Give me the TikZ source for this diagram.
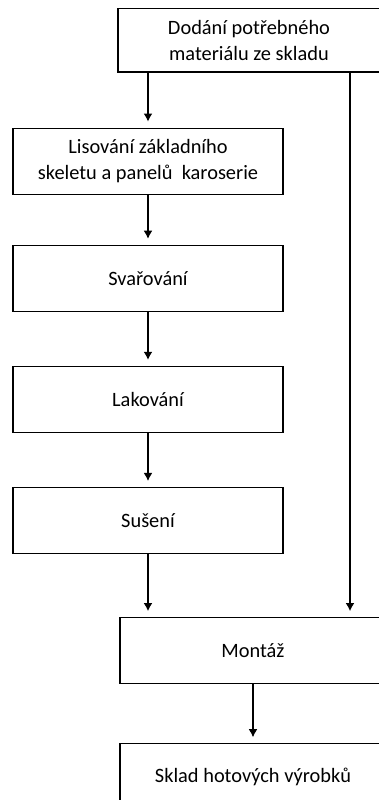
\documentclass[tikz,border=0pt]{standalone}
\usepackage{fontspec}
\setmainfont{Carlito}
\usetikzlibrary{arrows.meta, positioning}

\begin{document}
\begin{tikzpicture}[font=\fontsize{14.5}{18.5}\selectfont,->,>={Latex[length=2mm,width=2.2mm]},line width=0.8pt]

	\tikzset{stepbox/.style={draw, rectangle, align=center,
			minimum width=6.75cm, minimum height=1.65cm}}
	\tikzset{flow/.style={shorten >=0.15cm}}

	\useasboundingbox (0,0) rectangle (9.475,-20);

	\node[stepbox, minimum width=6.55cm, minimum height=1.58cm] (dod) at (6.225,-1.01) {Dodání potřebného\\materiálu ze skladu};
	\node[stepbox, below=1.375cm of dod, xshift=-2.525cm] (lis) {Lisování základního\\skeletu a panelů\ \ karoserie};
	\node[stepbox, below=1.25cm of lis] (svar) {Svařování};
	\node[stepbox, below=1.35cm of svar] (lak) {Lakování};
	\node[stepbox, below=1.35cm of lak] (sus) {Sušení};
	\node[stepbox, minimum width=6.65cm, below=1.575cm of sus, xshift=2.625cm] (mont) {Montáž};
	\node[stepbox, minimum width=6.65cm, below=1.475cm of mont] (skl) {Sklad hotových výrobků};
	\coordinate (rline) at (8.75,0);

	\draw[flow] (dod.south -| lis.north) -- (lis.north);
	\draw[flow] (lis) -- (svar);
	\draw[flow] (svar) -- (lak);
	\draw[flow] (lak) -- (sus);
	\draw[flow] (sus.south) -- (sus.south |- mont.north);
	\draw[flow] (dod.south -| rline) -- (mont.north -| rline);
	\draw[flow] (mont) -- (skl);
\end{tikzpicture}
\end{document}
